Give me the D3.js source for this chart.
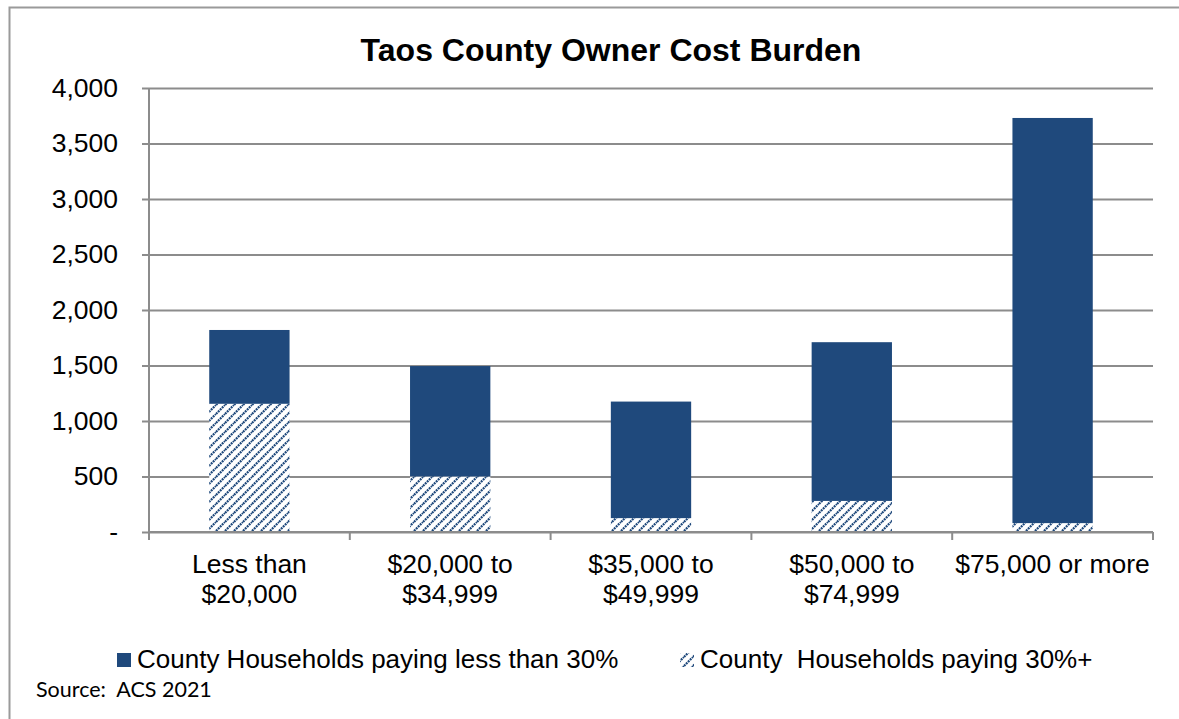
<!DOCTYPE html>
<html>
<head>
<meta charset="utf-8">
<script src="https://cdn.jsdelivr.net/npm/d3@7"></script>
<style>
  html, body { margin: 0; padding: 0; background: #fff; }
  svg { display: block; }
</style>
</head>
<body>
<svg id="chart" width="1179" height="719"></svg>
<script>
// Income brackets (two-line labels)
const categories = [
  ["Less than", "$20,000"],
  ["$20,000 to", "$34,999"],
  ["$35,000 to", "$49,999"],
  ["$50,000 to", "$74,999"],
  ["$75,000 or more"]
];
// Households paying 30% or more of income on housing (bottom segment)
const burdened = [1155, 500, 125, 280, 80];
// Households paying less than 30% (top segment)
const notBurdened = [665, 995, 1050, 1430, 3650];
const yTicks = [0, 500, 1000, 1500, 2000, 2500, 3000, 3500, 4000];
const seriesNames = ["County Households paying less than 30%", "County  Households paying 30%+"];

const svg = d3.select("#chart");
const navy = "#1f497c";
const grid = "#8c8c8c";
const sans = "Liberation Sans, Arial, sans-serif";

// Hatched fill for the cost-burdened segment
const defs = svg.append("defs");
const P = 9;
const pat = defs.append("pattern")
  .attr("id", "hatch")
  .attr("patternUnits", "userSpaceOnUse")
  .attr("width", P).attr("height", P);
pat.append("rect").attr("width", P).attr("height", P).attr("fill", "#fff");
pat.append("path")
  .attr("d", `M-2,2 L2,-2 M0,${P} L${P},0 M${P - 2},${P + 2} L${P + 2},${P - 2}`)
  .attr("stroke", navy).attr("stroke-width", 2.2)
  .attr("stroke-dasharray", "2,0.8");

// Outer chart frame
svg.append("rect")
  .attr("x", 9.5).attr("y", 7.5).attr("width", 1300).attr("height", 900)
  .attr("fill", "none").attr("stroke", "#9a9a9a").attr("stroke-width", 2);

const plot = { left: 149, right: 1153, top: 88, bottom: 532 };

const x = d3.scaleBand()
  .domain(d3.range(categories.length))
  .range([plot.left, plot.right])
  .paddingInner(0.6).paddingOuter(0.3);

const y = d3.scaleLinear().domain([0, 4000]).range([plot.bottom, plot.top]);

// Title
svg.append("text")
  .attr("x", 611).attr("y", 61)
  .attr("text-anchor", "middle")
  .attr("font-family", sans)
  .attr("font-weight", "bold").attr("font-size", 32)
  .attr("fill", "#000")
  .text("Taos County Owner Cost Burden");

// Horizontal gridlines with y axis ticks
const yAxis = d3.axisLeft(y)
  .tickValues(yTicks)
  .tickSize(-(plot.right - plot.left))
  .tickPadding(31)
  .tickFormat(d => d === 0 ? "-" : d3.format(",")(d));

const gy = svg.append("g")
  .attr("transform", `translate(${plot.left},0)`)
  .call(yAxis);
gy.select(".domain").remove();
gy.selectAll(".tick line")
  .attr("x1", -7)
  .attr("stroke", grid).attr("stroke-width", 2);
gy.selectAll(".tick text")
  .attr("font-family", sans)
  .attr("font-size", 26.5).attr("fill", "#000");

// Vertical axis line
svg.append("line")
  .attr("x1", plot.left).attr("x2", plot.left)
  .attr("y1", plot.top).attr("y2", plot.bottom + 7)
  .attr("stroke", grid).attr("stroke-width", 2);

// Stacked bars
const stackData = categories.map((c, i) => ({ i, burdened: burdened[i], notBurdened: notBurdened[i] }));
const stack = d3.stack().keys(["burdened", "notBurdened"]);
const layers = stack(stackData);

svg.append("g").selectAll("g")
  .data(layers)
  .join("g")
  .attr("fill", d => d.key === "burdened" ? "url(#hatch)" : navy)
  .selectAll("rect")
  .data(d => d)
  .join("rect")
  .attr("x", d => x(d.data.i))
  .attr("width", x.bandwidth())
  .attr("y", d => y(d[1]))
  .attr("height", d => y(d[0]) - y(d[1]));

// X axis baseline with category boundary ticks
const xAxisG = svg.append("g");
xAxisG.append("line")
  .attr("x1", plot.left).attr("x2", plot.right)
  .attr("y1", plot.bottom).attr("y2", plot.bottom)
  .attr("stroke", grid).attr("stroke-width", 2);
const step = (plot.right - plot.left) / categories.length;
xAxisG.selectAll("line.b")
  .data(d3.range(categories.length + 1))
  .join("line")
  .attr("class", "b")
  .attr("x1", d => plot.left + d * step).attr("x2", d => plot.left + d * step)
  .attr("y1", plot.bottom).attr("y2", plot.bottom + 8)
  .attr("stroke", grid).attr("stroke-width", 2);

// Category labels
const lbl = svg.append("g").selectAll("text")
  .data(categories)
  .join("text")
  .attr("x", (d, i) => x(i) + x.bandwidth() / 2)
  .attr("y", 573)
  .attr("text-anchor", "middle")
  .attr("font-family", sans)
  .attr("font-size", 26.5).attr("fill", "#000");
lbl.selectAll("tspan")
  .data(d => d)
  .join("tspan")
  .attr("x", function () { return d3.select(this.parentNode).attr("x"); })
  .attr("dy", (d, j) => j === 0 ? 0 : 30)
  .text(d => d);

// Legend
const legend = svg.append("g");
const legendItems = [
  { name: seriesNames[0], fill: navy, x: 117, tx: 137 },
  { name: seriesNames[1], fill: "url(#hatch)", x: 680, tx: 700 }
];
legendItems.forEach(it => {
  legend.append("rect")
    .attr("x", it.x).attr("y", 653).attr("width", 14).attr("height", 14)
    .attr("fill", it.fill);
  legend.append("text")
    .attr("x", it.tx).attr("y", 668)
    .attr("font-family", sans)
    .attr("font-size", 26).attr("fill", "#000")
    .style("white-space", "pre")
    .text(it.name);
});

// Source note
svg.append("text")
  .attr("x", 36).attr("y", 697)
  .attr("font-family", "Lato, Open Sans, sans-serif")
  .attr("font-size", 21.5).attr("fill", "#000")
  .style("white-space", "pre")
  .text("Source:  ACS 2021");
</script>
</body>
</html>
